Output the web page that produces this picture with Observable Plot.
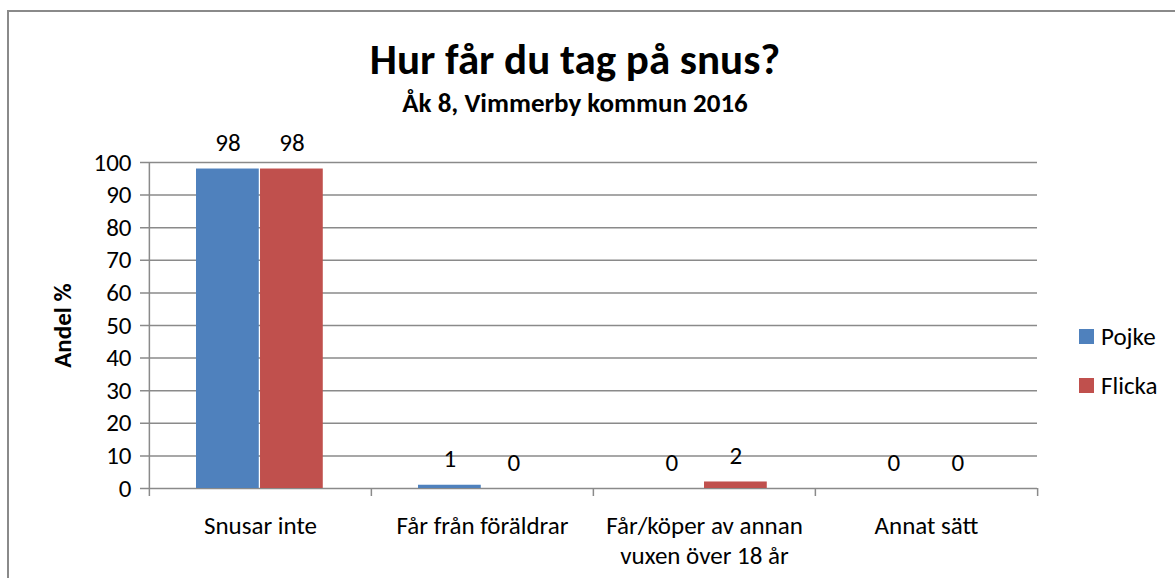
<!DOCTYPE html>
<html><head><meta charset="utf-8">
<script src="https://cdn.jsdelivr.net/npm/d3@7"></script>
<script src="https://cdn.jsdelivr.net/npm/@observablehq/plot@0.6"></script>
<style>
body{margin:0;background:#fff;font-family:Calibri,Carlito,Lato,sans-serif;}
#wrap{position:relative;width:1175px;height:578px;overflow:hidden;background:#fff;}
#wrap svg{position:absolute;left:0;top:0;}
#border{position:absolute;left:7px;top:10px;width:1200px;height:600px;border:2px solid #8a8a8a;box-sizing:border-box;pointer-events:none;}
.ttl{position:absolute;left:0;width:1150px;text-align:center;font-weight:bold;color:#000;line-height:1;white-space:nowrap;}
#title{top:38px;font-size:43px;}
#subtitle{top:89px;font-size:27px;}
.leg{position:absolute;left:1079px;height:16px;display:flex;align-items:center;font-size:25px;color:#000;white-space:nowrap;}
.leg span.sw{display:inline-block;width:15px;height:15px;margin-right:7px;flex:none;}
</style></head>
<body>
<div id="wrap">
  <div id="title" class="ttl"></div>
  <div id="subtitle" class="ttl"></div>
  <div id="legend"></div>
  <div id="border"></div>
</div>
<script>
const titleText = "Hur får du tag på snus?";
const subtitleText = "Åk 8, Vimmerby kommun 2016";
const yLabel = "Andel %";
const categories = ["Snusar inte", "Får från föräldrar", "Får/köper av annan vuxen över 18 år", "Annat sätt"];
const categoryLabels = ["Snusar inte", "Får från föräldrar", "Får/köper av annan\nvuxen över 18 år", "Annat sätt"];
const series = ["Pojke", "Flicka"];
const pojke = [98, 1, 0, 0];
const flicka = [98, 0, 2, 0];
const yTicks = [0, 10, 20, 30, 40, 50, 60, 70, 80, 90, 100];
const colors = ["#4F81BD", "#C0504D"];

const W = 1175, H = 578, ML = 148, MR = 138, MT = 162, MB = 90;
const bw = (W - ML - MR) / categories.length;
const barStart = [0.2115, 0.4995];
const barFrac = 0.2835;
const gridColor = "#8a8a8a";
const font = "Calibri, Carlito, Lato, sans-serif";

const values = {Pojke: pojke, Flicka: flicka};
const rows = series.map(s => categories.map((c, i) => ({cat: c, series: s, value: values[s][i]})));

const marks = [
  Plot.gridY(yTicks, {stroke: gridColor, strokeOpacity: 1, strokeWidth: 1.5, insetLeft: -8}),
  Plot.ruleX([categories[0]], {y1: 0, y2: 100, dx: -bw / 2, stroke: gridColor, strokeWidth: 1.5}),
  Plot.ruleX(categories, {y1: 0, y2: 0, insetBottom: -8, dx: -bw / 2, stroke: gridColor, strokeWidth: 1.5}),
  Plot.ruleX([categories[categories.length - 1]], {y1: 0, y2: 0, insetBottom: -8, dx: bw / 2, stroke: gridColor, strokeWidth: 1.5}),
  Plot.axisY(yTicks, {tickSize: 0, tickPadding: 17, fontSize: 25, label: null, fill: "#000"}),
  Plot.axisX(categories, {tickSize: 0, tickPadding: 24, fontSize: 25, label: null, fill: "#000", lineHeight: 1.2,
    tickFormat: d => categoryLabels[categories.indexOf(d)]}),
  Plot.text([yLabel], {frameAnchor: "left", textAnchor: "middle", dx: -86, rotate: -90, fontWeight: "bold", fontSize: 25, fill: "#000"})
];
series.forEach((s, k) => {
  const left = barStart[k] * bw;
  const right = bw - (barStart[k] + barFrac) * bw;
  marks.push(Plot.barY(rows[k], {x: "cat", y: "value", fill: colors[k], insetLeft: left, insetRight: right}));
  marks.push(Plot.text(rows[k], {x: "cat", y: "value", text: d => String(d.value), dx: (barStart[k] + barFrac / 2 - 0.5) * bw, dy: -26, fontSize: 25, fill: "#000"}));
});

const svg = Plot.plot({
  width: W, height: H,
  marginLeft: ML, marginRight: MR, marginTop: MT, marginBottom: MB,
  x: {domain: categories, padding: 0, axis: null},
  y: {domain: [0, 100], axis: null},
  style: {fontFamily: font, background: "transparent", color: "#000", overflow: "visible"},
  marks
});
const wrap = document.getElementById("wrap");
wrap.insertBefore(svg, wrap.firstChild);
document.getElementById("title").textContent = titleText;
document.getElementById("subtitle").textContent = subtitleText;
const legend = document.getElementById("legend");
const legTops = [328, 377];
series.forEach((s, k) => {
  const d = document.createElement("div");
  d.className = "leg";
  d.style.top = (legTops[k]) + "px";
  d.innerHTML = `<span class="sw" style="background:${colors[k]}"></span><span></span>`;
  d.lastChild.textContent = s;
  legend.appendChild(d);
});
</script>
</body></html>
